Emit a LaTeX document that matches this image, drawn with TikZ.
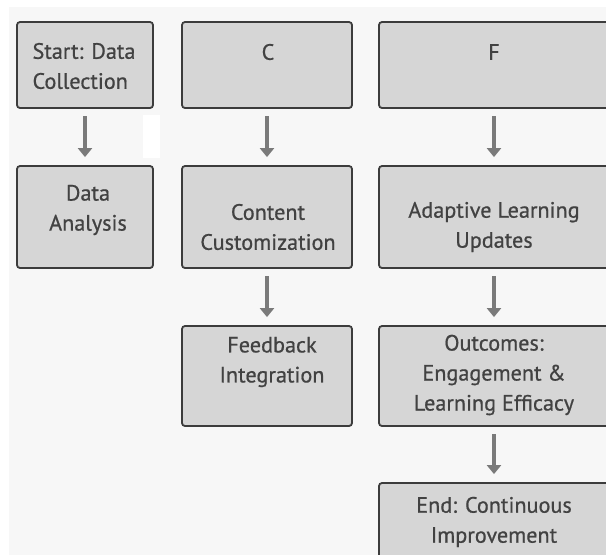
\documentclass[tikz,border=0pt]{standalone}
\usepackage{fontspec}
\setmainfont{PT Sans}[FakeBold=0.7]
\usetikzlibrary{arrows.meta}
\definecolor{bgc}{HTML}{F7F7F7}
\definecolor{boxfill}{HTML}{D6D6D6}
\definecolor{boxline}{HTML}{3C3C3C}
\definecolor{txt}{HTML}{424242}
\definecolor{arrc}{HTML}{7A7A7A}
\tikzset{
  stepbox/.style={draw=boxline, fill=boxfill, line width=1.8pt, rounded corners=3pt, inner sep=0pt},
  lbl/.style={text=txt, font=\fontsize{22.2}{30}\selectfont, align=center, inner sep=0pt},
  flow/.style={draw=arrc, line width=3.2pt, -{Triangle[length=9pt,width=14pt]}, shorten <=7.5pt, shorten >=8pt}
}
\begin{document}
\begin{tikzpicture}[x=1pt,y=-1pt]
\useasboundingbox (0,0) rectangle (606,555);
\fill[white] (0,0) rectangle (606,555);
\fill[bgc] (9,7) rectangle (606,555);
\fill[white] (143,115) rectangle (160,158);
% boxes
\node[stepbox, minimum width=136pt, minimum height=86pt] (start) at (85,65) {};
\node[stepbox, minimum width=170pt, minimum height=86pt] (c) at (267,65) {};
\node[stepbox, minimum width=230pt, minimum height=86pt] (f) at (494,65) {};
\node[stepbox, minimum width=136pt, minimum height=102pt] (da) at (85,217) {};
\node[stepbox, minimum width=170pt, minimum height=102pt] (cc) at (267,217) {};
\node[stepbox, minimum width=230pt, minimum height=102pt] (al) at (494,217) {};
\node[stepbox, minimum width=170pt, minimum height=100pt] (fi) at (267,376) {};
\node[stepbox, minimum width=230pt, minimum height=100pt] (oc) at (494,376) {};
\node[stepbox, minimum width=230pt, minimum height=100pt] (en) at (494,533) {};
% texts
\node[lbl, align=left] (t1) at (84,66) {Start: Data\\Collection};
\node[lbl] (t2) at (268,52) {C};
\node[lbl] (t3) at (494,52) {F};
\node[lbl] (t4) at (88,210) {Data\\Analysis};
\node[lbl] (t5) at (268,227) {Content\\Customization};
\node[lbl] (t6) at (494,227) {Adaptive Learning\\Updates};
\node[lbl] (t7) at (272,362) {Feedback\\Integration};
\node[lbl] (t8) at (494,375) {Outcomes:\\Engagement \&\\Learning Efficacy};
\node[lbl] (t9) at (494,522) {End: Continuous\\Improvement};
% arrows
\draw[flow] (start) -- (da);
\draw[flow] (c) -- (cc);
\draw[flow] (f) -- (al);
\draw[flow] (cc) -- (fi);
\draw[flow] (al) -- (oc);
\draw[flow] (oc) -- (en);
\end{tikzpicture}
\end{document}
